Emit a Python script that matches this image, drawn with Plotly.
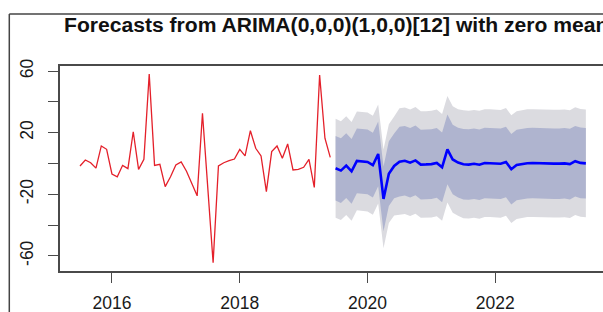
import plotly.graph_objects as go

# ---- data ----
start_year = 2015.5          # first observation: Jul 2015, monthly series
fc_start_year = 2019.5       # first forecast: Jul 2019

history = [-1.6, 2.3, 0.5, -3.0, 11.4, 9.2, -6.8, -8.6, -1.2, -3.3, 20.6, -3.8,
           2.7, 58.1, -1.2, -0.5, -15.0, -8.6, -1.0, 1.0, -5.0, -13.0, -21.0, 32.6,
           -18.0, -64.4, -1.6, 0.5, 1.8, 2.9, 9.2, 4.9, 21.3, 9.9, 4.9, -18.3,
           7.7, 11.4, 3.4, 12.7, -4.2, -3.8, -2.5, 2.7, -15.5, 57.5, 16.4, 4.0]

forecast = [-3.1, -4.6, -1.4, -5.1, 1.7, 1.5, 1.0, -1.1, 6.2, -23.0, -6.6, -1.6,
            1.2, 1.8, 0.5, 2.0, -0.7, -0.6, -0.4, 0.4, -2.5, 9.2, 2.6, 0.6,
            -0.5, -0.7, -0.2, -0.8, 0.3, 0.2, 0.2, -0.2, 1.0, -3.7, -1.0, -0.3,
            0.2, 0.3, 0.1, 0.3, -0.1, -0.1, -0.1, 0.1, -0.4, 1.5, 0.4, 0.1]

hi80 = [17.9, 16.4, 19.6, 15.9, 22.7, 22.5, 22.0, 19.9, 27.2, -2.0, 14.4, 19.4,
        23.8, 24.4, 23.1, 24.6, 21.9, 22.0, 22.2, 23.0, 20.1, 31.8, 25.2, 23.2,
        22.4, 22.2, 22.7, 22.1, 23.2, 23.1, 23.1, 22.7, 23.9, 19.2, 21.9, 22.6,
        23.1, 23.2, 23.0, 23.2, 22.8, 22.8, 22.8, 23.0, 22.5, 24.4, 23.3, 23.0]
lo80 = [-24.1, -25.6, -22.4, -26.1, -19.3, -19.5, -20.0, -22.1, -14.8, -44.0, -27.6, -22.6,
        -21.4, -20.8, -22.1, -20.6, -23.3, -23.2, -23.0, -22.2, -25.1, -13.4, -20.0, -22.0,
        -23.4, -23.6, -23.1, -23.7, -22.6, -22.7, -22.7, -23.1, -21.9, -26.6, -23.9, -23.2,
        -22.7, -22.6, -22.8, -22.6, -23.0, -23.0, -23.0, -22.8, -23.3, -21.4, -22.5, -22.8]
hi95 = [29.0, 27.5, 30.7, 27.0, 33.8, 33.6, 33.1, 31.0, 38.3, 9.1, 25.5, 30.5,
        35.8, 36.4, 35.1, 36.6, 33.9, 34.0, 34.2, 35.0, 32.1, 43.8, 37.2, 35.2,
        34.5, 34.3, 34.8, 34.2, 35.3, 35.2, 35.2, 34.8, 36.0, 31.3, 34.0, 34.7,
        35.2, 35.3, 35.1, 35.3, 34.9, 34.9, 34.9, 35.1, 34.6, 36.5, 35.4, 35.1]
lo95 = [-35.2, -36.7, -33.5, -37.2, -30.4, -30.6, -31.1, -33.2, -25.9, -55.1, -38.7, -33.7,
        -33.4, -32.8, -34.1, -32.6, -35.3, -35.2, -35.0, -34.2, -37.1, -25.4, -32.0, -34.0,
        -35.5, -35.7, -35.2, -35.8, -34.7, -34.8, -34.8, -35.2, -34.0, -38.7, -36.0, -35.3,
        -34.8, -34.7, -34.9, -34.7, -35.1, -35.1, -35.1, -34.9, -35.4, -33.5, -34.6, -34.9]

x_ticks = [2016, 2018, 2020, 2022]
y_ticks = [-60, -40, -20, 0, 20, 40, 60]
y_tick_labels = ["-60", "", "-20", "", "20", "", "60"]
title_text = "Forecasts from ARIMA(0,0,0)(1,0,0)[12] with zero mean"

# time axes (monthly)
t_hist = [start_year + i / 12 for i in range(len(history))]
t_fc = [fc_start_year + i / 12 for i in range(len(forecast))]

FONT = "Liberation Sans, Arial, sans-serif"
AX = "#4a4a4a"

fig = go.Figure()
fig.add_trace(go.Scatter(x=t_fc, y=lo95, mode="lines", line=dict(width=0),
                         hoverinfo="skip", showlegend=False))
fig.add_trace(go.Scatter(x=t_fc, y=hi95, mode="lines", line=dict(width=0),
                         fill="tonexty", fillcolor="#DBDBE0", showlegend=False))
fig.add_trace(go.Scatter(x=t_fc, y=lo80, mode="lines", line=dict(width=0),
                         hoverinfo="skip", showlegend=False))
fig.add_trace(go.Scatter(x=t_fc, y=hi80, mode="lines", line=dict(width=0),
                         fill="tonexty", fillcolor="#AFB4CF", showlegend=False))
fig.add_trace(go.Scatter(x=t_hist, y=history, mode="lines",
                         line=dict(color="rgb(228,32,42)", width=1.3), showlegend=False))
fig.add_trace(go.Scatter(x=t_fc, y=forecast, mode="lines",
                         line=dict(color="#0000FF", width=2.6), showlegend=False))

W, H = 603, 312
ml, mr, mt, mb = 60, 0, 66, 41
pw, ph = W - ml - mr, H - mt - mb

def px_x(p):
    return (p - ml) / pw

def px_y(p):
    return (H - mb - p) / ph

fig.update_layout(
    width=W, height=H,
    margin=dict(l=ml, r=mr, t=mt, b=mb, pad=0, autoexpand=False),
    paper_bgcolor="white", plot_bgcolor="white",
    font=dict(family=FONT, size=17.5, color="#1a1a1a"),
    xaxis=dict(range=[2015.187, 2023.685], tickvals=x_ticks,
               ticktext=[str(v) for v in x_ticks],
               showgrid=False, zeroline=False, showline=True, mirror=True,
               linecolor=AX, linewidth=1.5, ticks="outside", ticklen=10,
               tickwidth=1.3, tickcolor=AX, ticklabelstandoff=5),
    yaxis=dict(range=[-69.8, 63.3], tickvals=y_ticks, ticktext=y_tick_labels,
               tickangle=-90, showgrid=False, zeroline=False, showline=True,
               mirror=False, linecolor=AX, linewidth=1.5, ticks="outside",
               ticklen=10, tickwidth=1.3, tickcolor=AX, ticklabelstandoff=8),
    annotations=[dict(text=title_text, xref="paper", yref="paper",
                      x=px_x(61.5), y=px_y(24), xanchor="left", yanchor="middle",
                      showarrow=False,
                      font=dict(family=FONT, size=21.1, color="#111111", weight="bold"))],
    shapes=[
        dict(type="line", xref="paper", yref="paper", x0=px_x(9.3), x1=px_x(9.3),
             y0=px_y(14), y1=px_y(H + 5), line=dict(color="#444444", width=1.5)),
        dict(type="line", xref="paper", yref="paper", x0=px_x(9.3), x1=px_x(W + 5),
             y0=px_y(14), y1=px_y(14), line=dict(color="#444444", width=1.5)),
    ],
)

fig.write_html("out.html", config={"displayModeBar": False},
               post_script="document.body.style.margin='0';document.body.style.overflow='hidden';")
